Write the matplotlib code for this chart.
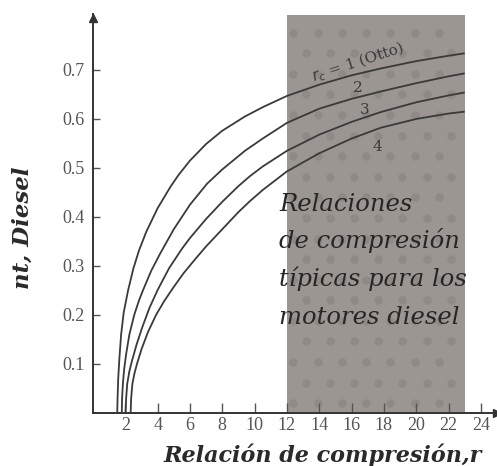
import numpy as np
import matplotlib
matplotlib.use("Agg")
import matplotlib.pyplot as plt

# ---------------- data ----------------
r_rc1 = [1.50, 1.52, 1.56, 1.63, 1.74, 1.90, 2.17, 2.50, 2.85, 3.30, 4.00, 4.80,
         5.30, 6.00, 7.00, 8.00, 9.40, 10.5, 12.0, 14.0, 16.0, 17.8, 20.0, 22.0, 23.0]
eta_rc1 = [0.000, 0.030, 0.070, 0.110, 0.160, 0.205, 0.250, 0.295, 0.332, 0.370, 0.418, 0.462,
           0.486, 0.515, 0.549, 0.576, 0.605, 0.624, 0.647, 0.670, 0.689, 0.703, 0.718, 0.729, 0.734]

r_rc2 = [1.78, 1.80, 1.85, 1.93, 2.05, 2.25, 2.55, 2.85, 3.10, 3.60, 4.15, 5.00,
         6.00, 7.06, 8.00, 9.40, 10.5, 12.0, 14.0, 16.0, 17.8, 20.0, 22.0, 23.0]
eta_rc2 = [0.000, 0.030, 0.060, 0.090, 0.120, 0.160, 0.200, 0.230, 0.251, 0.290, 0.325, 0.375,
           0.425, 0.468, 0.497, 0.535, 0.560, 0.592, 0.621, 0.641, 0.656, 0.673, 0.687, 0.693]

r_rc3 = [2.02, 2.05, 2.12, 2.25, 2.40, 2.70, 3.05, 3.50, 4.00, 4.70, 5.50, 6.00,
         7.00, 8.00, 9.00, 9.70, 10.5, 12.0, 14.0, 16.0, 17.8, 20.0, 22.0, 23.0]
eta_rc3 = [0.000, 0.030, 0.060, 0.085, 0.105, 0.140, 0.175, 0.215, 0.251, 0.295, 0.335, 0.357,
           0.396, 0.431, 0.463, 0.483, 0.503, 0.535, 0.568, 0.594, 0.614, 0.634, 0.648, 0.654]

r_rc4 = [2.33, 2.36, 2.44, 2.56, 2.72, 3.00, 3.40, 3.90, 4.40, 4.95, 5.60, 6.30,
         7.00, 8.00, 9.00, 9.70, 10.5, 12.0, 14.0, 16.0, 17.8, 20.0, 22.0, 23.0]
eta_rc4 = [0.000, 0.030, 0.060, 0.080, 0.100, 0.130, 0.165, 0.200, 0.228, 0.255, 0.285, 0.313,
           0.340, 0.375, 0.410, 0.432, 0.455, 0.493, 0.530, 0.560, 0.582, 0.600, 0.611, 0.615]

curve_labels = [r"$r_c$ = 1 (Otto)", "2", "3", "4"]
label_r = [16.4, 16.4, 16.8, 17.6]
label_eta = [0.716, 0.663, 0.618, 0.543]
label_rot = [18, 0, 0, 0]

shade_start, shade_end, shade_top = 12.0, 23.0, 0.812

x_ticks = [2, 4, 6, 8, 10, 12, 14, 16, 18, 20, 22, 24]
y_ticks = [0.1, 0.2, 0.3, 0.4, 0.5, 0.6, 0.7]
y_tick_labels = ["0.1", "0.2", "0.3", "0.4", "0.5", "0.6", "0.7"]

region_lines = ["Relaciones", "de compresión", "típicas para los", "motores diesel"]

xlabel = "Relación de compresión,r"
ylabel = "nt, Diesel"

# ---------------- figure ----------------
fig = plt.figure(figsize=(4.97, 4.66), dpi=100)
ax = fig.add_axes([93 / 497, 53 / 466, 404 / 497, 399.4 / 466])
ax.set_xlim(0, 25)
ax.set_ylim(0, 0.815)

line_col = "#3a3a3a"
# shaded region
ax.fill_between([shade_start, shade_end], 0, shade_top, color="#9b9692", zorder=1, lw=0)
# dotted texture
dx, dy = 1.5, 0.042
rows = np.arange(0.02, shade_top - 0.01, dy)
for i, yy in enumerate(rows):
    xs = np.arange(shade_start + 0.4 + (dx / 2 if i % 2 else 0), shade_end - 0.2, dx)
    ax.scatter(xs, np.full_like(xs, yy), s=38, color="#85807b", alpha=0.5,
               lw=0, zorder=1.5)

for rr, ee in [(r_rc1, eta_rc1), (r_rc2, eta_rc2), (r_rc3, eta_rc3), (r_rc4, eta_rc4)]:
    ax.plot(rr, ee, color=line_col, lw=1.3, zorder=3, solid_capstyle="butt")

for lab, xr, ye, rot in zip(curve_labels, label_r, label_eta, label_rot):
    ax.text(xr, ye, lab, rotation=rot, ha="center", va="center", fontsize=11,
            family="DejaVu Serif", color="#3a3a3a", zorder=4)

# region text
region_y = [0.4245, 0.351, 0.273, 0.194]
for txt, yy in zip(region_lines, region_y):
    ax.text(11.52, yy, txt, ha="left", va="center", fontsize=17.5, style="italic",
            family="DejaVu Serif", color="#262626", zorder=4)

# spines and arrows
for s in ["top", "right"]:
    ax.spines[s].set_visible(False)
for s in ["left", "bottom"]:
    ax.spines[s].set_color("#333333")
    ax.spines[s].set_linewidth(1.4)
ax.plot([0], [0.99], marker="^", transform=ax.transAxes, color="#333333",
        markersize=6, clip_on=False, zorder=5)
ax.plot([1], [0], marker=">", transform=ax.transAxes, color="#333333",
        markersize=6, clip_on=False, zorder=5)

ax.set_xticks(x_ticks)
ax.set_xticklabels([str(v) for v in x_ticks])
ax.set_yticks(y_ticks)
ax.set_yticklabels(y_tick_labels)
ax.tick_params(axis="x", direction="in", length=7, width=1.0, color="#555555",
               labelsize=13, labelcolor="#555555", pad=3)
ax.tick_params(axis="y", direction="in", length=5, width=1.0, color="#555555",
               labelsize=13, labelcolor="#555555", pad=6)
for lab in ax.get_xticklabels() + ax.get_yticklabels():
    lab.set_family("Liberation Serif")

ax.text(0.569, -0.105, xlabel, transform=ax.transAxes, ha="center", va="center",
        fontsize=16, style="italic", weight="bold", family="DejaVu Serif",
        color="#2a2a2a")
ax.text(-0.173, 0.463, ylabel, transform=ax.transAxes, ha="center", va="center",
        rotation=90, fontsize=16.5, style="italic", weight="bold",
        family="DejaVu Serif", color="#2a2a2a")

fig.savefig("out.png", dpi=100)
